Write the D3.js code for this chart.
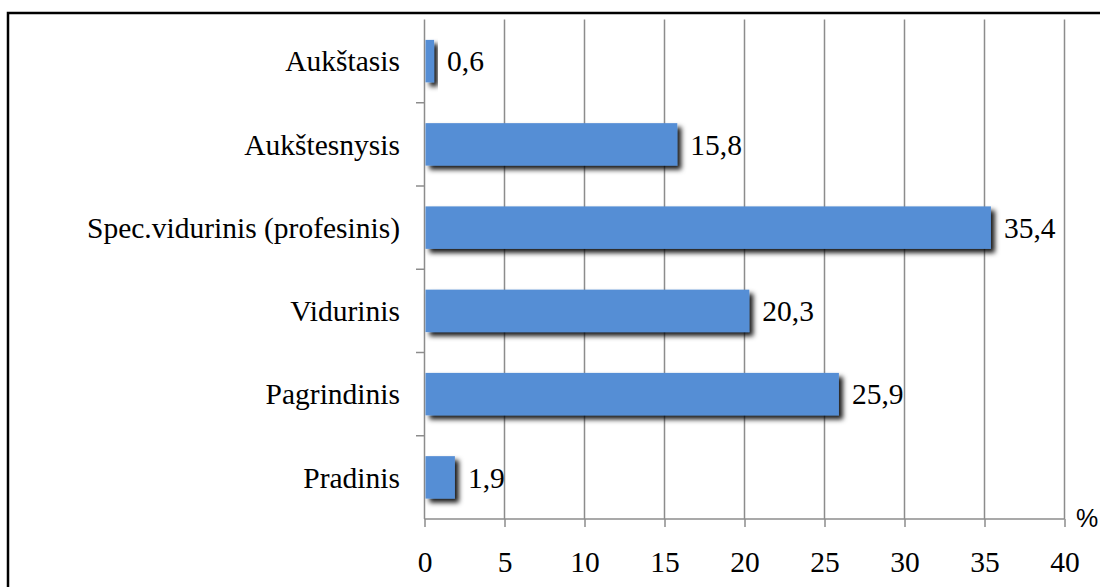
<!DOCTYPE html>
<html><head><meta charset="utf-8">
<script src="https://cdn.jsdelivr.net/npm/d3@7"></script>
<style>body{margin:0;background:#fff}svg{display:block}</style>
</head><body>
<script>
const categories = ["Aukštasis","Aukštesnysis","Spec.vidurinis (profesinis)","Vidurinis","Pagrindinis","Pradinis"];
const values = [0.6, 15.8, 35.4, 20.3, 25.9, 1.9];
const valueLabels = ["0,6","15,8","35,4","20,3","25,9","1,9"];
const xTicks = [0,5,10,15,20,25,30,35,40];
const unitLabel = "%";

const W = 1100, H = 587;
const svg = d3.select("body").append("svg").attr("width", W).attr("height", H);
const defs = svg.append("defs");
const f = defs.append("filter").attr("id","sh").attr("x","-20%").attr("y","-30%").attr("width","160%").attr("height","180%");
f.append("feDropShadow").attr("dx",4).attr("dy",4).attr("stdDeviation",2.4).attr("flood-color","#000").attr("flood-opacity",0.9);

// outer border
svg.append("rect").attr("x",8).attr("y",13).attr("width",W).attr("height",H).attr("fill","none").attr("stroke","#000").attr("stroke-width",2.5);

const x = d3.scaleLinear().domain([0,40]).range([424.5,1064.5]);
const y = d3.scaleBand().domain(categories).range([19.5,519]).paddingInner(0.49).paddingOuter(0.245);
const grid = "#8c8c8c";
const serif = "'Liberation Serif','Times New Roman',serif";
const fs = 29.5;

// gridlines
svg.append("g").selectAll("line").data(xTicks.slice(1)).join("line")
  .attr("x1",d=>x(d)).attr("x2",d=>x(d)).attr("y1",19.5).attr("y2",519)
  .attr("stroke",grid).attr("stroke-width",1.5);

// x axis
const xAxis = d3.axisBottom(x).tickValues(xTicks).tickSize(8).tickPadding(24).tickFormat(d=>d);
const gx = svg.append("g").attr("transform","translate(0,519)").call(xAxis);
gx.attr("font-family",null).attr("font-size",null);
gx.select(".domain").attr("stroke",grid).attr("stroke-width",1.5).attr("d","M424.5,0H1064.5");
gx.selectAll(".tick line").attr("stroke",grid).attr("stroke-width",1.5);
gx.selectAll(".tick text").style("font-family",serif).style("font-size",fs+"px").attr("fill","#000");

// y axis line + band boundary ticks
svg.append("line").attr("x1",424.5).attr("x2",424.5).attr("y1",19.5).attr("y2",519).attr("stroke",grid).attr("stroke-width",1.5);
const bounds = d3.range(1, categories.length).map(i => y.range()[0] + i*(y.range()[1]-y.range()[0])/categories.length);
svg.append("g").selectAll("line").data(bounds).join("line")
  .attr("x1",416).attr("x2",424.5).attr("y1",d=>d).attr("y2",d=>d).attr("stroke",grid).attr("stroke-width",1.5);

// category labels
svg.append("g").selectAll("text").data(categories).join("text")
  .attr("x",400).attr("y",d=>y(d)+y.bandwidth()/2).attr("dy","0.35em")
  .attr("text-anchor","end").style("font-family",serif).style("font-size",fs+"px").attr("fill","#000").text(d=>d);

// bars
svg.append("g").selectAll("rect").data(values).join("rect")
  .attr("x",x(0)+1).attr("y",(d,i)=>y(categories[i]))
  .attr("width",d=>x(d)-x(0)-1).attr("height",y.bandwidth())
  .attr("fill","#558ed5").attr("filter","url(#sh)");

// value labels
svg.append("g").selectAll("text").data(values).join("text")
  .attr("x",d=>x(d)+13).attr("y",(d,i)=>y(categories[i])+y.bandwidth()/2).attr("dy","0.35em")
  .style("font-family",serif).style("font-size",fs+"px").attr("fill","#000").text((d,i)=>valueLabels[i]);

// unit
svg.append("text").attr("x",1076).attr("y",527).style("font-family","'Liberation Sans',Arial,sans-serif")
  .style("font-size","25px").attr("fill","#000").text(unitLabel);
</script>
</body></html>
